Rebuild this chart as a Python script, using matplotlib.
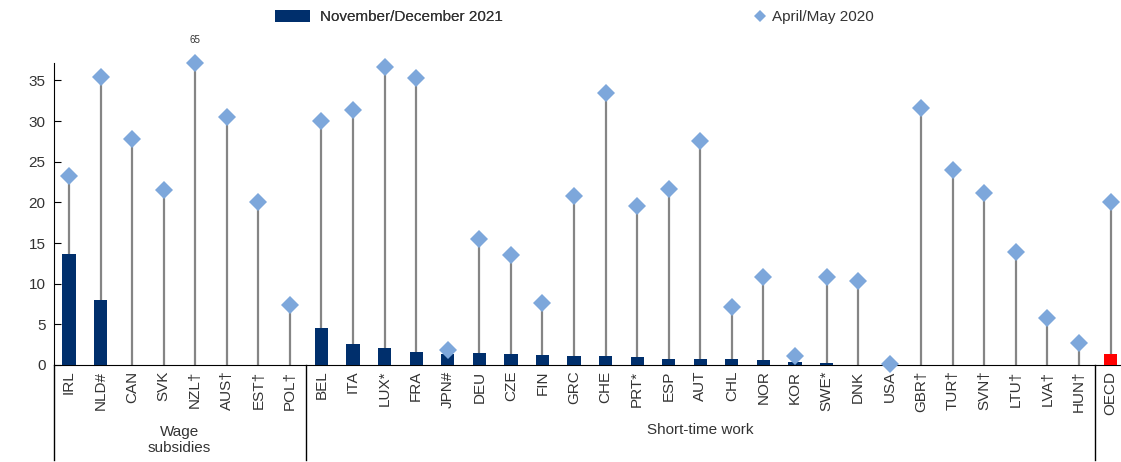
import matplotlib
matplotlib.use("Agg")
import matplotlib.pyplot as plt
import matplotlib.transforms as mtransforms
from matplotlib.patches import Patch
from matplotlib.lines import Line2D
from matplotlib import font_manager
import numpy as np

plt.rcParams['font.family'] = ['Liberation Sans', 'DejaVu Sans']
names = {f.name for f in font_manager.fontManager.ttflist}
narrow_ok = 'Liberation Sans Narrow' in names
hfam = ['Liberation Sans Narrow', 'Liberation Sans', 'DejaVu Sans'] if narrow_ok else ['Liberation Sans', 'DejaVu Sans']
hscale = 1.12 if narrow_ok else 1.0

countries = ["IRL", "NLD#", "CAN", "SVK", "NZL†", "AUS†", "EST†", "POL†",
             "BEL", "ITA", "LUX*", "FRA", "JPN#", "DEU", "CZE", "FIN", "GRC", "CHE",
             "PRT*", "ESP", "AUT", "CHL", "NOR", "KOR", "SWE*", "DNK", "USA",
             "GBR†", "TUR†", "SVN†", "LTU†", "LVA†", "HUN†", "OECD"]
nov_dec_2021 = [13.6, 8.0, 0, 0, 0, 0, 0, 0,
                4.5, 2.6, 2.1, 1.6, 1.4, 1.5, 1.3, 1.2, 1.1, 1.1,
                1.0, 0.7, 0.7, 0.7, 0.6, 0.4, 0.2, 0, 0,
                0, 0, 0, 0, 0, 0, 1.3]
apr_may_2020 = [23.2, 35.4, 27.8, 21.5, 65, 30.5, 20.1, 7.4,
                30.0, 31.3, 36.6, 35.3, 1.8, 15.5, 13.5, 7.6, 20.8, 33.5,
                19.5, 21.6, 27.5, 7.1, 10.8, 1.1, 10.8, 10.3, 0.1,
                31.6, 24.0, 21.1, 13.9, 5.8, 2.7, 20.1]
groups = [("Wage\nsubsidies", 0, 7), ("Short-time work", 8, 32)]
yticks = [0, 5, 10, 15, 20, 25, 30, 35]
ymax = 37.1

navy = "#002F6C"
red = "#FF0000"
diamond_c = "#7DA7DB"
stem_c = "#858585"
text_c = "#333333"

fig = plt.figure(figsize=(11.21, 4.62), dpi=100)
ax = fig.add_axes([54 / 1121, 1 - 365 / 462, 1 - 54 / 1121, (365 - 63.3) / 462])

x = np.arange(len(countries))
disp = np.minimum(apr_may_2020, ymax)

ax.vlines(x, 0, disp, color=stem_c, lw=1.6, zorder=2)
bar_colors = [navy] * (len(countries) - 1) + [red]
ax.bar(x, nov_dec_2021, width=0.42, color=bar_colors, zorder=3)
ax.plot(x, disp, linestyle='none', marker='D', markersize=9.5, color=diamond_c,
        markeredgewidth=0, zorder=4, clip_on=False)

for xi, v in zip(x, apr_may_2020):
    if v > ymax:
        ax.text(xi, ymax + 2.9, f"{v:g}", ha='center', va='center', fontsize=7 * hscale,
                color=text_c, clip_on=False, family=hfam)

ax.set_xlim(-0.475, 33.33)
ax.set_ylim(0, ymax)
ax.set_yticks(yticks)
ax.set_xticks(x)
ax.set_xticklabels(countries, rotation=90, fontsize=11, color=text_c)
ax.tick_params(axis='x', length=0, pad=4)
ax.tick_params(axis='y', direction='in', length=5, pad=6)
for t in ax.get_yticklabels():
    t.set_family(hfam)
    t.set_fontsize(11 * hscale)
    t.set_color(text_c)
for s in ['top', 'right']:
    ax.spines[s].set_visible(False)
ax.spines['left'].set_color('black')
ax.spines['bottom'].set_color('black')

trans = mtransforms.blended_transform_factory(ax.transData, ax.transAxes)
low = -0.315
for xs in [-0.475, 7.5, 32.5]:
    ax.plot([xs, xs], [0, low], transform=trans, color='black', lw=1, clip_on=False)

for label, a, b in groups:
    yy = -0.2486 if "\n" in label else -0.2154
    ax.text((a + b) / 2, yy, label, transform=trans, ha='center', va='center',
            fontsize=11 * hscale, color=text_c, linespacing=1.15, family=hfam)

h1 = Patch(facecolor=navy, edgecolor='none')
leg1 = fig.legend([h1], ["November/December 2021"], loc='center left',
                  bbox_to_anchor=(275 / 1121, 1 - 17 / 462), frameon=False,
                  prop={'family': hfam, 'size': 11 * hscale},
                  handlelength=2.3 / hscale, handleheight=0.8 / hscale,
                  handletextpad=0.65 / hscale, borderpad=0, borderaxespad=0)
for t in leg1.get_texts():
    t.set_color(text_c)
h2 = Line2D([], [], linestyle='none', marker='D', markersize=6, color=diamond_c,
            markeredgewidth=0)
leg2 = fig.legend([h2], ["April/May 2020"], loc='center left',
                  bbox_to_anchor=(755 / 1121, 1 - 17 / 462), frameon=False,
                  prop={'family': hfam, 'size': 11 * hscale},
                  handlelength=0.7 / hscale, handletextpad=0.4 / hscale,
                  borderpad=0, borderaxespad=0)
for t in leg2.get_texts():
    t.set_color(text_c)
fig.add_artist(leg1)

fig.savefig("out.png", dpi=100)
